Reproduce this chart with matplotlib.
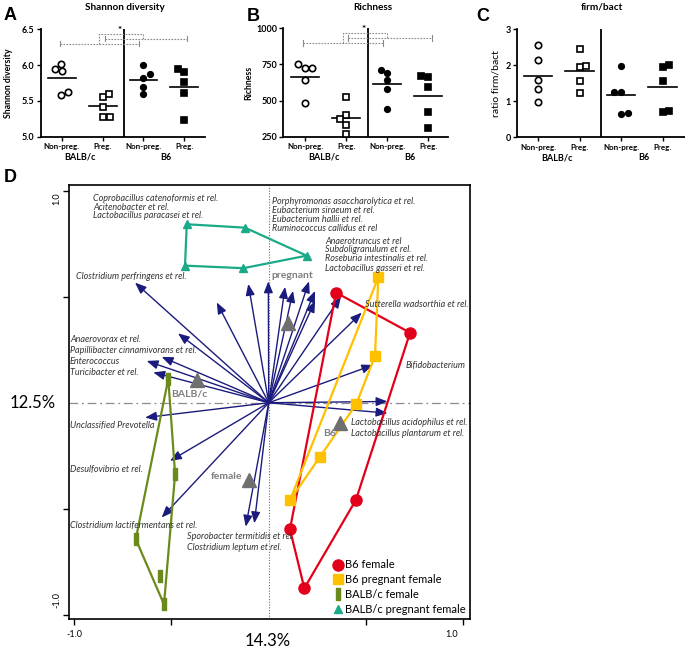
import matplotlib
matplotlib.use('Agg')
import matplotlib.pyplot as plt
import numpy as np
from matplotlib.path import Path
from matplotlib.lines import Line2D

plt.rcParams['font.family'] = ['Lato', 'DejaVu Sans']

# ---------------- data: panels A-C ----------------
categories = ['Non-preg.', 'Preg.', 'Non-preg.', 'Preg.']
strains = ['BALB/c', 'B6']

shannon_balbc_np = [5.95, 6.02, 5.92, 5.58, 5.62]
shannon_balbc_p = [5.55, 5.60, 5.41, 5.28, 5.28]
shannon_b6_np = [6.00, 5.88, 5.82, 5.69, 5.59]
shannon_b6_p = [5.94, 5.90, 5.76, 5.61, 5.24]

richness_balbc_np = [751, 723, 725, 642, 485]
richness_balbc_p = [527, 398, 374, 333, 269]
richness_b6_np = [711, 693, 642, 578, 444]
richness_b6_p = [670, 661, 596, 419, 308]

ratio_balbc_np = [2.55, 2.14, 1.58, 1.34, 0.97]
ratio_balbc_p = [2.45, 1.94, 1.99, 1.56, 1.24]
ratio_b6_np = [1.99, 1.25, 1.25, 0.66, 0.68]
ratio_b6_p = [1.94, 2.01, 1.56, 0.71, 0.73]

# horizontal spread of overlapping points (category units)
spread_A = [[-0.17, -0.02, 0.0, -0.02, 0.15], [0.0, 0.15, 0.0, 0.0, 0.17],
            [0.0, 0.17, 0.0, 0.0, 0.0], [-0.15, 0.0, 0.0, 0.0, 0.0]]
spread_B = [[-0.17, 0.0, 0.15, 0.0, 0.0], [0.0, 0.0, -0.16, 0.0, 0.0],
            [-0.16, 0.0, 0.0, 0.0, 0.0], [-0.17, 0.0, 0.0, 0.0, 0.0]]
spread_C = [[0.0, 0.0, 0.0, 0.0, 0.0], [0.0, 0.0, 0.16, 0.0, 0.0],
            [0.0, -0.17, 0.0, 0.0, 0.16], [0.0, 0.16, 0.0, 0.0, 0.16]]

# ---------------- data: panel D (RDA biplot) ----------------
arrow_x = [-0.687, -0.267, -0.466, -0.627, -0.550, -0.593, -0.105, -0.002, 0.084, 0.125,
           0.207, 0.238, 0.238, 0.371, 0.478, 0.537, 0.610, 0.610, -0.635, -0.507,
           -0.550, -0.118, -0.074]
arrow_y = [0.566, 0.473, 0.327, 0.197, 0.216, 0.143, 0.560, 0.572, 0.546, 0.527,
           0.572, 0.527, 0.480, 0.500, 0.425, 0.178, 0.006, -0.049, -0.070, -0.274,
           -0.541, -0.584, -0.568]

b6_female_x = [0.346, 0.726, 0.448, 0.183, 0.109]
b6_female_y = [0.519, 0.330, -0.458, -0.874, -0.596]
b6_preg_x = [0.563, 0.546, 0.450, 0.263, 0.109]
b6_preg_y = [0.591, 0.221, -0.006, -0.254, -0.460]
balbc_female_x = [-0.516, -0.481, -0.683, -0.558, -0.538]
balbc_female_y = [0.112, -0.337, -0.643, -0.815, -0.950]
balbc_preg_x = [-0.421, -0.122, 0.195, -0.130, -0.430]
balbc_preg_y = [0.841, 0.825, 0.693, 0.634, 0.646]

supp_names = ['pregnant', 'BALB/c', 'B6', 'female']
supp_x = [0.101, -0.370, 0.366, -0.100]
supp_y = [0.378, 0.107, -0.094, -0.364]

species_labels = [
    ('Coprobacillus catenoformis et rel.', -0.901, 0.964),
    ('Acitenobacter et rel.', -0.901, 0.921),
    ('Lactobacillus paracasei et rel.', -0.901, 0.880),
    ('Porphyromonas asaccharolytica et rel.', 0.015, 0.948),
    ('Eubacterium siraeum et rel.', 0.015, 0.905),
    ('Eubacterium hallii et rel.', 0.015, 0.863),
    ('Ruminococcus callidus et rel', 0.015, 0.819),
    ('Anaerotruncus et rel', 0.289, 0.762),
    ('Subdoligranulum et rel.', 0.289, 0.720),
    ('Roseburia intestinalis et rel.', 0.289, 0.678),
    ('Lactobacillus gasseri et rel.', 0.289, 0.634),
    ('Clostridium perfringens et rel.', -0.990, 0.594),
    ('Sutterella wadsorthia et rel.', 0.495, 0.464),
    ('Bifidobacterium', 0.705, 0.175),
    ('Anaerovorax et rel.', -1.021, 0.296),
    ('Papillibacter cinnamivorans et rel.', -1.021, 0.244),
    ('Enterococcus', -1.021, 0.194),
    ('Turicibacter et rel.', -1.021, 0.142),
    ('Unclassified Prevotella', -1.021, -0.108),
    ('Desulfovibrio et rel.', -1.021, -0.313),
    ('Clostridium lactifermentans et rel.', -1.021, -0.579),
    ('Sporobacter termitidis et rel.', -0.421, -0.630),
    ('Clostridium leptum et rel.', -0.421, -0.680),
    ('Lactobacillus acidophilus et rel.', 0.423, -0.094),
    ('Lactobacillus plantarum et rel.', 0.423, -0.147),
]
supp_label_pos = [(0.121, 0.599), (-0.408, 0.041), (0.315, -0.144), (-0.219, -0.348)]

# ---------------- figure ----------------
W, H = 685, 649
fig = plt.figure(figsize=(W / 100, H / 100), dpi=100)


def rect(l, r, t, b):
    return [l / W, 1 - b / H, (r - l) / W, (b - t) / H]


def fx(px):
    return px / W


def fy(py):
    return 1 - py / H


def dot_panel(ax, series, spreads, ylim, yticks, fmt, xlim):
    styles = [('o', 'white', 4.6), ('s', 'white', 4.6), ('o', 'black', 4.0), ('s', 'black', 4.0)]
    for i, (vals, sp) in enumerate(zip(series, spreads)):
        m, fc, ms = styles[i]
        ax.plot(i + np.array(sp), vals, ls='none', marker=m, ms=ms, mfc=fc,
                mec='black', mew=1.2, clip_on=False, zorder=3)
        mu = np.mean(vals)
        ax.plot([i - 0.34, i + 0.34], [mu, mu], color='black', lw=1.2)
    ax.set_xlim(*xlim)
    ax.set_ylim(*ylim)
    ax.set_yticks(yticks)
    ax.set_yticklabels([fmt.format(v) for v in yticks], fontsize=6.5, fontweight='bold')
    ax.set_xticks(range(4))
    ax.set_xticklabels(categories, fontsize=5.8, fontweight='bold')
    ax.tick_params(axis='both', length=3, width=1, pad=1.5)
    for s in ['top', 'right']:
        ax.spines[s].set_visible(False)
    for s in ['left', 'bottom']:
        ax.spines[s].set_linewidth(1.3)
    ax.axvline(1.52, color='black', lw=1.3)
    tr = ax.get_xaxis_transform()
    ax.text(0.45, -0.19, strains[0], transform=tr, ha='center', va='center',
            fontsize=6.5, fontweight='bold')
    ax.text(2.55, -0.19, strains[1], transform=tr, ha='center', va='center',
            fontsize=6.5, fontweight='bold')


def brackets(ax):
    tr = ax.get_xaxis_transform()
    kw = dict(color='#8a8a8a', lw=0.8, ls=(0, (1.5, 1.2)), transform=tr, clip_on=False)
    for x0, x1, y in [(-0.05, 1.90, 0.866), (1.05, 3.08, 0.912)]:
        ax.plot([x0, x1], [y, y], **kw)
        for xc in (x0, x1):
            ax.plot([xc, xc], [y - 0.025, y + 0.025], color='#8a8a8a', lw=0.8,
                    transform=tr, clip_on=False)
    ax.plot([0.92, 0.92, 1.98, 1.98], [0.866, 0.958, 0.958, 0.912], **kw)
    ax.text(1.42, 0.985, '*', transform=tr, ha='center', va='center', fontsize=7,
            fontweight='bold')


axA = fig.add_axes(rect(40.7, 205, 29.3, 136.7))
dot_panel(axA, [shannon_balbc_np, shannon_balbc_p, shannon_b6_np, shannon_b6_p], spread_A,
          (5.0, 6.5), [5.0, 5.5, 6.0, 6.5], '{:.1f}', (-0.52, 3.51))
brackets(axA)
axA.set_ylabel('Shannon diversity', fontsize=6.3, fontweight='bold')
axA.yaxis.set_label_coords(-0.17, 0.5)

axB = fig.add_axes(rect(283.3, 448, 28.3, 136.7))
dot_panel(axB, [richness_balbc_np, richness_balbc_p, richness_b6_np, richness_b6_p], spread_B,
          (250, 1000), [250, 500, 750, 1000], '{:d}', (-0.54, 3.48))
brackets(axB)
axB.set_ylabel('Richness', fontsize=6.3, fontweight='bold')
axB.yaxis.set_label_coords(-0.184, 0.5)

axC = fig.add_axes(rect(517.3, 685, 29.3, 137.3))
dot_panel(axC, [ratio_balbc_np, ratio_balbc_p, ratio_b6_np, ratio_b6_p], spread_C,
          (0, 3), [0, 1, 2, 3], '{:d}', (-0.5, 3.54))
axC.set_ylabel('ratio firm/bact', fontsize=7.5)
axC.yaxis.set_label_coords(-0.103, 0.5)

for t, x in [('Shannon diversity', 125), ('Richness', 372.7), ('firm/bact', 601.7)]:
    fig.text(fx(x), fy(7), t, ha='center', va='center', fontsize=7.2, fontweight='bold')
for t, x, y in [('A', 10, 15), ('B', 253, 16.7), ('C', 483, 16.7), ('D', 10, 178)]:
    fig.text(fx(x), fy(y), t, ha='center', va='center', fontsize=13, fontweight='bold',
             family=['Liberation Sans', 'DejaVu Sans'])

# ---------------- panel D ----------------
axD = fig.add_axes(rect(69, 470, 185, 619))
axD.set_xlim(-1.026, 1.034)
axD.set_ylim(-1.019, 1.026)
for s in axD.spines.values():
    s.set_linewidth(1.2)
axD.set_xticks([-1, -0.5, 0.5, 1])
axD.set_yticks([-1, -0.5, 0.5, 1])
axD.set_xticklabels([])
axD.set_yticklabels([])
axD.tick_params(length=4, width=1)
axD.text(-1.0, -1.07, '-1.0', ha='center', va='top', fontsize=6.5)
axD.text(0.94, -1.07, '1.0', ha='center', va='top', fontsize=6.5)
axD.text(-1.09, 0.96, '1.0', ha='center', va='center', rotation=90, fontsize=6.5)
axD.text(-1.09, -0.93, '-1.0', ha='center', va='center', rotation=90, fontsize=6.5)

axD.axhline(0, color='#8c8c8c', lw=0.9, ls=(0, (7, 3, 1.5, 3)), zorder=1)
axD.axvline(0, color='#6c6c6c', lw=0.8, ls=(0, (1, 1.5)), zorder=1)

fig.text(fx(33), fy(403), '12.5%', ha='center', va='center', fontsize=12)
fig.text(fx(268), fy(641), '14.3%', ha='center', va='center', fontsize=12)


def convex_hull(xs, ys):
    pts = sorted(zip(xs, ys))

    def cross(o, a, b):
        return (a[0] - o[0]) * (b[1] - o[1]) - (a[1] - o[1]) * (b[0] - o[0])
    lower, upper = [], []
    for p in pts:
        while len(lower) >= 2 and cross(lower[-2], lower[-1], p) <= 0:
            lower.pop()
        lower.append(p)
    for p in reversed(pts):
        while len(upper) >= 2 and cross(upper[-2], upper[-1], p) <= 0:
            upper.pop()
        upper.append(p)
    hull = lower[:-1] + upper[:-1]
    hull.append(hull[0])
    return [p[0] for p in hull], [p[1] for p in hull]


bar_marker = Path([(-0.42, -1), (0.42, -1), (0.42, 1), (-0.42, 1), (-0.42, -1)],
                  [Path.MOVETO, Path.LINETO, Path.LINETO, Path.LINETO, Path.CLOSEPOLY])

groups_D = [
    ('B6 female', b6_female_x, b6_female_y, '#e2001a', 'o', 8),
    ('B6 pregnant female', b6_preg_x, b6_preg_y, '#ffc000', 's', 7),
    ('BALB/c female', balbc_female_x, balbc_female_y, '#6b8a1c', bar_marker, 8),
    ('BALB/c pregnant female', balbc_preg_x, balbc_preg_y, '#1aaa87', '^', 6),
]
for name, xs, ys, col, mk, ms in groups_D:
    hx, hy = convex_hull(xs, ys)
    axD.plot(hx, hy, color=col, lw=1.6, zorder=4)
    axD.plot(xs, ys, ls='none', marker=mk, ms=ms, color=col, mec=col, zorder=5)

for x, y in zip(arrow_x, arrow_y):
    axD.annotate('', xy=(x, y), xytext=(0, 0),
                 arrowprops=dict(arrowstyle='-|>,head_length=0.75,head_width=0.3',
                                 color='#1b1b7d', lw=1.0, shrinkA=0, shrinkB=0,
                                 mutation_scale=9), zorder=3)

axD.plot(supp_x, supp_y, ls='none', marker='^', ms=10, color='#6f6f6f', zorder=6)
for name, (lx, ly) in zip(supp_names, supp_label_pos):
    axD.text(lx, ly, name, ha='center', va='center', fontsize=7.5, fontweight='bold',
             color='#7f7f7f', zorder=7)

for t, x, y in species_labels:
    axD.text(x, y, t, ha='left', va='center', fontsize=6.5, style='italic', color='#333333',
             zorder=7)

handles = [Line2D([], [], ls='none', marker=mk, ms=ms, color=col, mec=col)
           for name, xs, ys, col, mk, ms in groups_D]
axD.legend(handles, [g[0] for g in groups_D], loc='lower right', bbox_to_anchor=(1.0, 0.0),
           frameon=False, fontsize=8, handlelength=0.8, handletextpad=0.3,
           labelspacing=0.35, borderaxespad=0.15, borderpad=0.2)

fig.savefig('out.png', dpi=100)
